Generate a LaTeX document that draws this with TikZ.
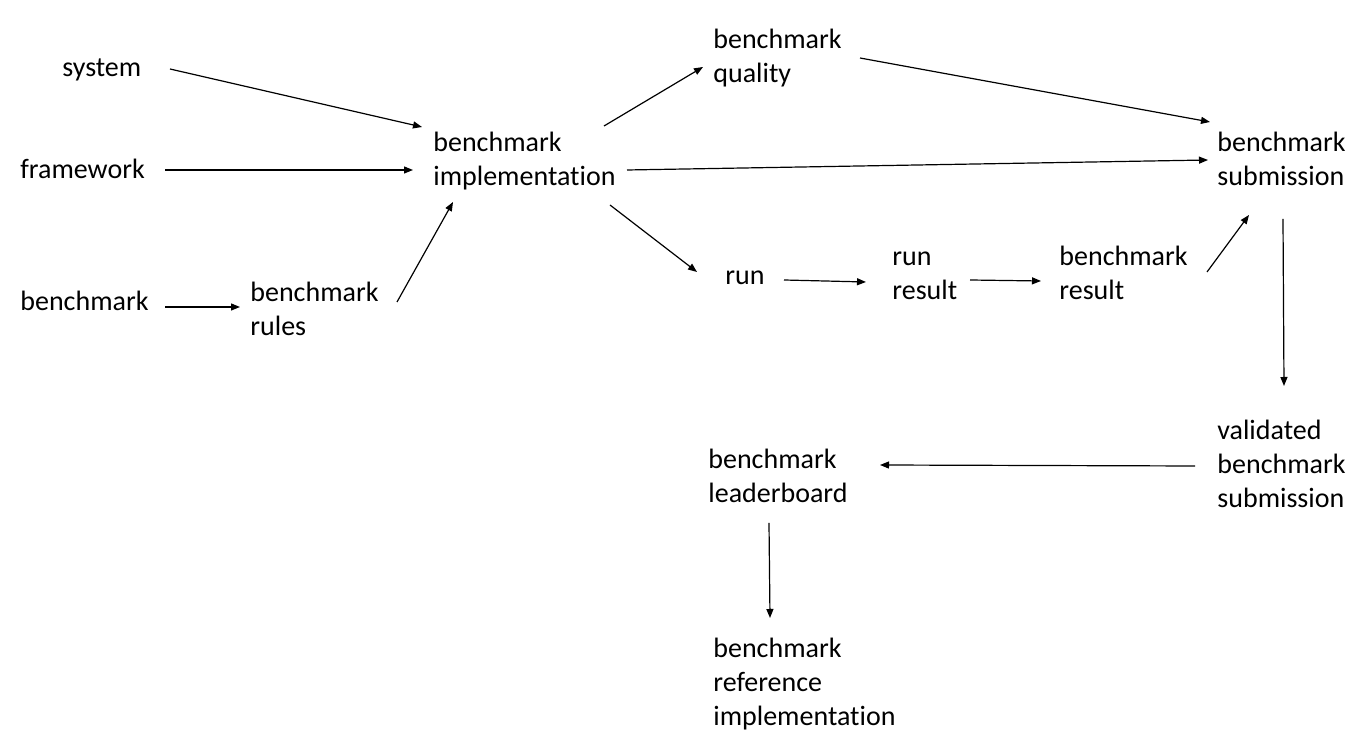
\documentclass[tikz,border=0pt]{standalone}
\usepackage{fontspec}
\setmainfont{Carlito}[Ligatures=NoCommon]
\usetikzlibrary{arrows.meta,calc}

\begin{document}
\begin{tikzpicture}[
        x=0.5pt, y=-0.5pt,
        font=\fontsize{14}{17}\selectfont,
        item/.style={anchor=base west, inner sep=0pt, align=left},
        arrow/.style={-{Triangle[length=4.5pt,width=3.5pt]}, line width=0.6pt}
    ]
        \useasboundingbox (0,0) rectangle (1367,747);

        % Entradas
        \node[item] (system) at (62,77) {system};
        \node[item] (framework) at (20,179) {framework};
        \node[item] (benchmark) at (20,311) {benchmark};
        \node[item] (rules) at (250,336) {benchmark\\rules};

        % Implementacion y resultados
        \node[item] (implementation) at (433,186) {benchmark\\implementation};
        \node[item] (quality) at (713,83) {benchmark\\quality};
        \node[item] (run) at (725,285) {run};
        \node[item] (runresult) at (892,300) {run\\result};
        \node[item] (benchresult) at (1059,300) {benchmark\\result};

        % Envio y publicacion
        \node[item] (submission) at (1217,186) {benchmark\\submission};
        \node[item] (validated) at (1217,508) {validated\\benchmark\\submission};
        \node[item] (leaderboard) at (708,503) {benchmark\\leaderboard};
        \node[item] (reference) at (713,726) {benchmark\\reference\\implementation};

        % Flechas
        \draw[arrow] ($(system.base west)+(108,-8)$) -- ($(implementation.base west)+(-11,-59)$);
        \draw[arrow] ($(framework.base west)+(145,-9)$) -- ($(implementation.base west)+(-20,-16)$);
        \draw[arrow] ($(benchmark.base west)+(145,-4)$) -- ($(rules.base west)+(-10,-29)$);
        \draw[arrow] ($(rules.base west)+(147,-34)$) -- ($(implementation.base west)+(20,16)$);
        \draw[arrow] ($(implementation.base west)+(171,-60)$) -- ($(quality.base west)+(-10,-16)$);
        \draw[arrow] ($(quality.base west)+(147,-25)$) -- ($(submission.base west)+(-7,-64)$);
        \draw[arrow] ($(implementation.base west)+(194,-16)$) -- ($(submission.base west)+(-9,-26)$);
        \draw[arrow] ($(implementation.base west)+(177,19)$) -- ($(run.base west)+(-28,-13)$);
        \draw[arrow] ($(run.base west)+(59,-5)$) -- ($(runresult.base west)+(-26,-18)$);
        \draw[arrow] ($(runresult.base west)+(78,-20)$) -- ($(benchresult.base west)+(-18,-19)$);
        \draw[arrow] ($(benchresult.base west)+(148,-28)$) -- ($(submission.base west)+(32,29)$);
        \draw[arrow] ($(submission.base west)+(66,33)$) -- ($(validated.base west)+(67,-122)$);
        \draw[arrow] ($(validated.base west)+(-22,-42)$) -- ($(leaderboard.base west)+(172,-38)$);
        \draw[arrow] ($(leaderboard.base west)+(61,20)$) -- ($(reference.base west)+(57,-108)$);

    \end{tikzpicture}
\end{document}
